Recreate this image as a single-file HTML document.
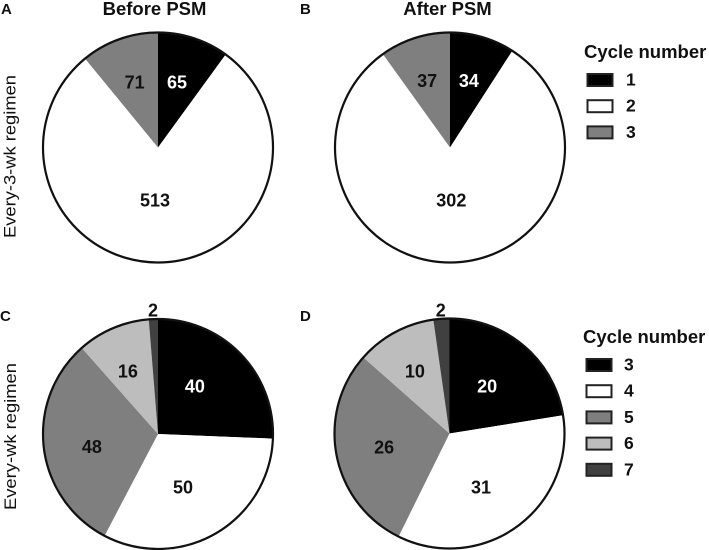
<!DOCTYPE html>
<html>
<head>
<meta charset="utf-8">
<style>
html,body{margin:0;padding:0;background:#fff;}
svg{display:block;font-family:"Liberation Sans",sans-serif;filter:blur(0.35px);}
text{fill:#111;}
</style>
</head>
<body>
<svg id="chart" width="709" height="550" viewBox="0 0 709 550" xmlns="http://www.w3.org/2000/svg">
<text x="1" y="14" font-size="15" font-weight="bold">A</text>
<text x="300" y="14" font-size="15" font-weight="bold">B</text>
<text x="0" y="321" font-size="15" font-weight="bold">C</text>
<text x="300" y="321" font-size="15" font-weight="bold">D</text>
<text x="154.5" y="15" font-size="18.5" font-weight="bold" text-anchor="middle">Before PSM</text>
<text x="447.5" y="15" font-size="18.5" font-weight="bold" text-anchor="middle">After PSM</text>
<text transform="translate(15.5,238) rotate(-90)" font-size="17" textLength="163" lengthAdjust="spacingAndGlyphs">Every-3-wk regimen</text>
<text transform="translate(16,510) rotate(-90)" font-size="17" textLength="147" lengthAdjust="spacingAndGlyphs">Every-wk regimen</text>
<g id="pies"></g>
<g id="legends"></g>
</svg>
<script>
var shadesTop = ['#000000', '#ffffff', '#7f7f7f'];
var shadesBottom = ['#000000', '#ffffff', '#7f7f7f', '#bdbdbd', '#404040'];
var valuesA = [65, 513, 71];
var valuesB = [34, 302, 37];
var valuesC = [40, 50, 48, 16, 2];
var valuesD = [20, 31, 26, 10, 2];
var legendTopCategories = ['1', '2', '3'];
var legendBottomCategories = ['3', '4', '5', '6', '7'];

var NS = 'http://www.w3.org/2000/svg';
var piesGroup = document.getElementById('pies');
var legendsGroup = document.getElementById('legends');

function pointAt(cx, cy, r, fraction) {
  var a = fraction * 2 * Math.PI;
  return [cx + r * Math.sin(a), cy - r * Math.cos(a)];
}

function drawPie(name, values, shades, cx, cy, r, labelLayout) {
  var total = values.reduce(function (s, v) { return s + v; }, 0);
  var cum = 0;
  var g = document.createElementNS(NS, 'g');
  
  
  piesGroup.appendChild(g);
  values.forEach(function (v, i) {
    var f0 = cum / total;
    var f1 = (cum + v) / total;
    cum += v;
    var p0 = pointAt(cx, cy, r, f0);
    var p1 = pointAt(cx, cy, r, f1);
    var large = (f1 - f0) > 0.5 ? 1 : 0;
    var path = document.createElementNS(NS, 'path');
    path.setAttribute('d', 'M' + cx + ' ' + cy + 'L' + p0[0] + ' ' + p0[1] + 'A' + r + ' ' + r + ' 0 ' + large + ' 1 ' + p1[0] + ' ' + p1[1] + 'Z');
    path.setAttribute('fill', shades[i]);
    
    
    g.appendChild(path);
  });
  var outline = document.createElementNS(NS, 'circle');
  outline.setAttribute('cx', cx);
  outline.setAttribute('cy', cy);
  outline.setAttribute('r', r);
  outline.setAttribute('fill', 'none');
  outline.setAttribute('stroke', '#111');
  outline.setAttribute('stroke-width', '2.2');
  
  
  g.appendChild(outline);
  cum = 0;
  values.forEach(function (v, i) {
    var mid = (cum + v / 2) / total + labelLayout[i][1] / 360;
    cum += v;
    var p = pointAt(cx, cy, labelLayout[i][0] * r, mid);
    var t = document.createElementNS(NS, 'text');
    t.setAttribute('x', p[0]);
    t.setAttribute('y', p[1] + 6.5);
    t.setAttribute('text-anchor', 'middle');
    t.setAttribute('font-size', '18');
    t.setAttribute('font-weight', 'bold');
    t.style.fill = shades[i] === '#000000' ? '#fff' : '#111';
    t.textContent = v;
    
    
    g.appendChild(t);
  });
}

function drawLegend(name, categories, shades, x, titleY, firstY, step, digitX) {
  var g = document.createElementNS(NS, 'g');
  
  
  legendsGroup.appendChild(g);
  var title = document.createElementNS(NS, 'text');
  title.setAttribute('x', x);
  title.setAttribute('y', titleY);
  title.setAttribute('font-size', '18.5');
  title.setAttribute('font-weight', 'bold');
  title.textContent = 'Cycle number';
  
  
  g.appendChild(title);
  categories.forEach(function (c, i) {
    var cy = firstY + i * step;
    var rect = document.createElementNS(NS, 'rect');
    rect.setAttribute('x', x + 3.5);
    rect.setAttribute('y', cy - 6);
    rect.setAttribute('width', 25);
    rect.setAttribute('height', 12);
    rect.setAttribute('fill', shades[i]);
    rect.setAttribute('stroke', '#222');
    rect.setAttribute('stroke-width', '2');
    
    
    g.appendChild(rect);
    var t = document.createElementNS(NS, 'text');
    t.setAttribute('x', digitX);
    t.setAttribute('y', cy + 5.5);
    t.setAttribute('font-size', '17.5');
    t.setAttribute('font-weight', 'bold');
    t.textContent = c;
    
    
    g.appendChild(t);
  });
}

drawPie('pie-a-before-every-3-wk', valuesA, shadesTop, 158, 147.5, 115, [[0.593, -1.8], [0.457, 4.9], [0.604, 0]]);
drawPie('pie-b-after-every-3-wk', valuesB, shadesTop, 450, 147.5, 115, [[0.605, -0.6], [0.457, 0], [0.616, -1]]);
drawPie('pie-c-before-every-wk', valuesC, shadesBottom, 158, 434, 115, [[0.527, -8.6], [0.51, 4.7], [0.585, -4], [0.607, -2.5], [1.078, 0]]);
drawPie('pie-d-after-every-wk', valuesD, shadesBottom, 449.5, 433.5, 115, [[0.526, -2], [0.54, 5.9], [0.58, -0.5], [0.62, -0.7], [1.076, 0]]);
drawLegend('legend-every-3-wk', legendTopCategories, shadesTop, 584, 58, 80, 26.2, 626);
drawLegend('legend-every-wk', legendBottomCategories, shadesBottom, 583, 343, 365, 26.2, 624);
</script>
</body>
</html>
